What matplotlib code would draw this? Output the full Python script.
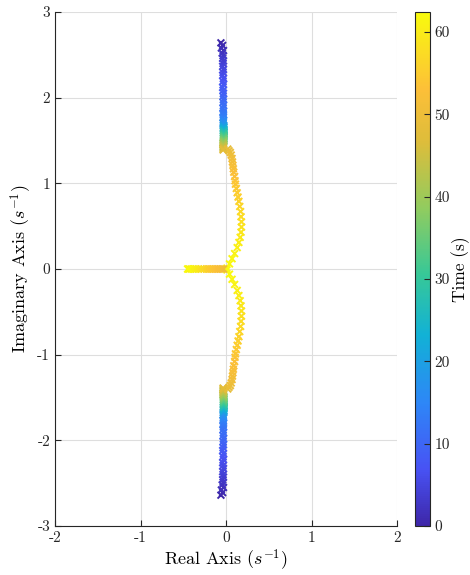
import matplotlib
matplotlib.use("Agg")
import matplotlib.pyplot as plt
import numpy as np
from matplotlib.colors import LinearSegmentedColormap

### Style
plt.rcParams["font.family"] = "cmr10"
plt.rcParams["mathtext.fontset"] = "cm"
plt.rcParams["axes.unicode_minus"] = False

# parula-like colormap
parula = LinearSegmentedColormap.from_list(
    "parula",
    [
        (0.00, (0.2422, 0.1504, 0.6603)),
        (0.11, (0.2810, 0.3228, 0.9579)),
        (0.24, (0.1786, 0.5289, 0.9682)),
        (0.37, (0.0689, 0.6948, 0.8394)),
        (0.49, (0.2161, 0.7843, 0.5923)),
        (0.62, (0.5709, 0.7993, 0.3706)),
        (0.75, (0.8700, 0.7400, 0.2300)),
        (0.85, (0.9900, 0.7500, 0.2200)),
        (1.00, (0.9763, 0.9831, 0.0538)),
    ],
)

## Pole data (upper branch; lower branch is its conjugate)
t_upper = [
    0, 0.5, 1, 1.5, 2, 2.5, 3, 3.5, 4, 4.5, 5, 5.5, 6, 6.5, 7, 7.5, 8, 8.5,
    9, 9.5, 10, 10.5, 11, 11.5, 12, 12.5, 13, 14, 15, 16, 17, 18, 19,
    20, 21, 22, 23, 24, 25, 26, 27, 28, 29, 30, 31, 32, 33, 34, 35, 36, 37,
    38, 39, 40, 41, 42, 43, 44, 45, 46, 47, 48,
    48.5, 49, 49.5, 50, 50.5, 51, 51.5, 52, 52.5, 53, 53.5, 54, 54.5, 55,
    55.5, 56, 56.5, 57, 57.5, 58, 58.5, 59, 59.5, 60, 60.5, 61, 61.5, 62, 62.4,
]
re_upper = [
    -0.06, -0.04, -0.055, -0.03, -0.045, -0.035, -0.04, -0.03, -0.035, -0.04,
    -0.03, -0.035, -0.04, -0.03, -0.035, -0.03, -0.04, -0.035, -0.03, -0.035,
    -0.03, -0.035, -0.03, -0.035, -0.03, -0.035, -0.03, -0.035, -0.03, -0.03,
    -0.035, -0.03, -0.03, -0.025, -0.03, -0.03, -0.025, -0.03, -0.025, -0.03,
    -0.025, -0.03, -0.025, -0.03, -0.025, -0.03, -0.025, -0.03, -0.025, -0.03,
    -0.025, -0.03, -0.03, -0.035, -0.03, -0.035, -0.03, -0.035, -0.03, -0.035,
    -0.03, -0.035,
    0.02, 0.035, 0.05, 0.06, 0.07, 0.075, 0.08, 0.085, 0.09, 0.10, 0.105,
    0.11, 0.12, 0.13, 0.14, 0.15, 0.16, 0.17, 0.175, 0.18, 0.18, 0.175,
    0.165, 0.15, 0.13, 0.10, 0.07, 0.04, 0.01,
]
im_upper = [
    2.64, 2.61, 2.58, 2.55, 2.52, 2.49, 2.46, 2.43, 2.40, 2.365, 2.33, 2.295,
    2.26, 2.225, 2.19, 2.155, 2.12, 2.085, 2.05, 2.015, 1.98, 1.945, 1.91,
    1.875, 1.84, 1.82, 1.80, 1.77, 1.74, 1.72, 1.70, 1.68, 1.67, 1.66, 1.65,
    1.64, 1.63, 1.62, 1.615, 1.61, 1.60, 1.59, 1.58, 1.57, 1.56, 1.55, 1.54,
    1.53, 1.52, 1.51, 1.50, 1.49, 1.48, 1.47, 1.46, 1.45, 1.44, 1.43, 1.42,
    1.41, 1.40, 1.39,
    1.40, 1.38, 1.36, 1.33, 1.29, 1.25, 1.21, 1.17, 1.13, 1.08, 1.03, 0.99,
    0.94, 0.89, 0.84, 0.79, 0.73, 0.67, 0.61, 0.55, 0.49, 0.43, 0.37, 0.31,
    0.25, 0.18, 0.12, 0.06, 0.01,
]

# real pole
t_real = [50, 50.5, 51, 51.5, 52, 52.5, 53, 53.5, 54, 54.5, 55, 56, 57, 58,
          59, 59.5, 60, 60.5, 61, 61.5, 62]
re_real = [-0.03, -0.05, -0.07, -0.09, -0.11, -0.13, -0.15, -0.17, -0.19,
           -0.21, -0.23, -0.26, -0.29, -0.32, -0.35, -0.37, -0.39, -0.41,
           -0.43, -0.44, -0.45]

t_max = 62.4

fig = plt.figure(figsize=(4.7, 5.75), dpi=100)
ax = fig.add_axes([0.117, 0.0852, 0.728, 0.8939])
cax = fig.add_axes([0.883, 0.0852, 0.032, 0.8939])

ax.grid(True, color="#dedede", linewidth=0.8)
ax.set_axisbelow(True)

t = np.array(t_upper)
re = np.array(re_upper)
im = np.array(im_upper)
kw = dict(cmap=parula, vmin=0, vmax=t_max, marker="x", s=24, linewidths=1.4)
sc = ax.scatter(re, im, c=t, **kw)
ax.scatter(re, -im, c=t, **kw)
ax.scatter(re_real, np.zeros(len(re_real)), c=t_real, **kw)

ax.set_xlim(-2, 2)
ax.set_ylim(-3, 3)
ax.set_xticks([-2, -1, 0, 1, 2])
ax.set_yticks([-3, -2, -1, 0, 1, 2, 3])
for s in ["top", "right"]:
    ax.spines[s].set_visible(False)
for s in ["left", "bottom"]:
    ax.spines[s].set_color("#262626")
ax.tick_params(direction="in", length=4, colors="#262626", labelsize=11)
ax.set_xlabel(r"Real Axis $(s^{-1})$", fontsize=13, labelpad=2)
ax.set_ylabel(r"Imaginary Axis $(s^{-1})$", fontsize=13, labelpad=2)

cb = fig.colorbar(sc, cax=cax)
cb.set_ticks([0, 10, 20, 30, 40, 50, 60])
cb.ax.tick_params(direction="in", length=4, colors="#262626", labelsize=11,
                  pad=3)
cb.outline.set_edgecolor("#262626")
cb.set_label("Time (s)", fontsize=12.5, labelpad=1)

plt.savefig("out.png", dpi=100)
